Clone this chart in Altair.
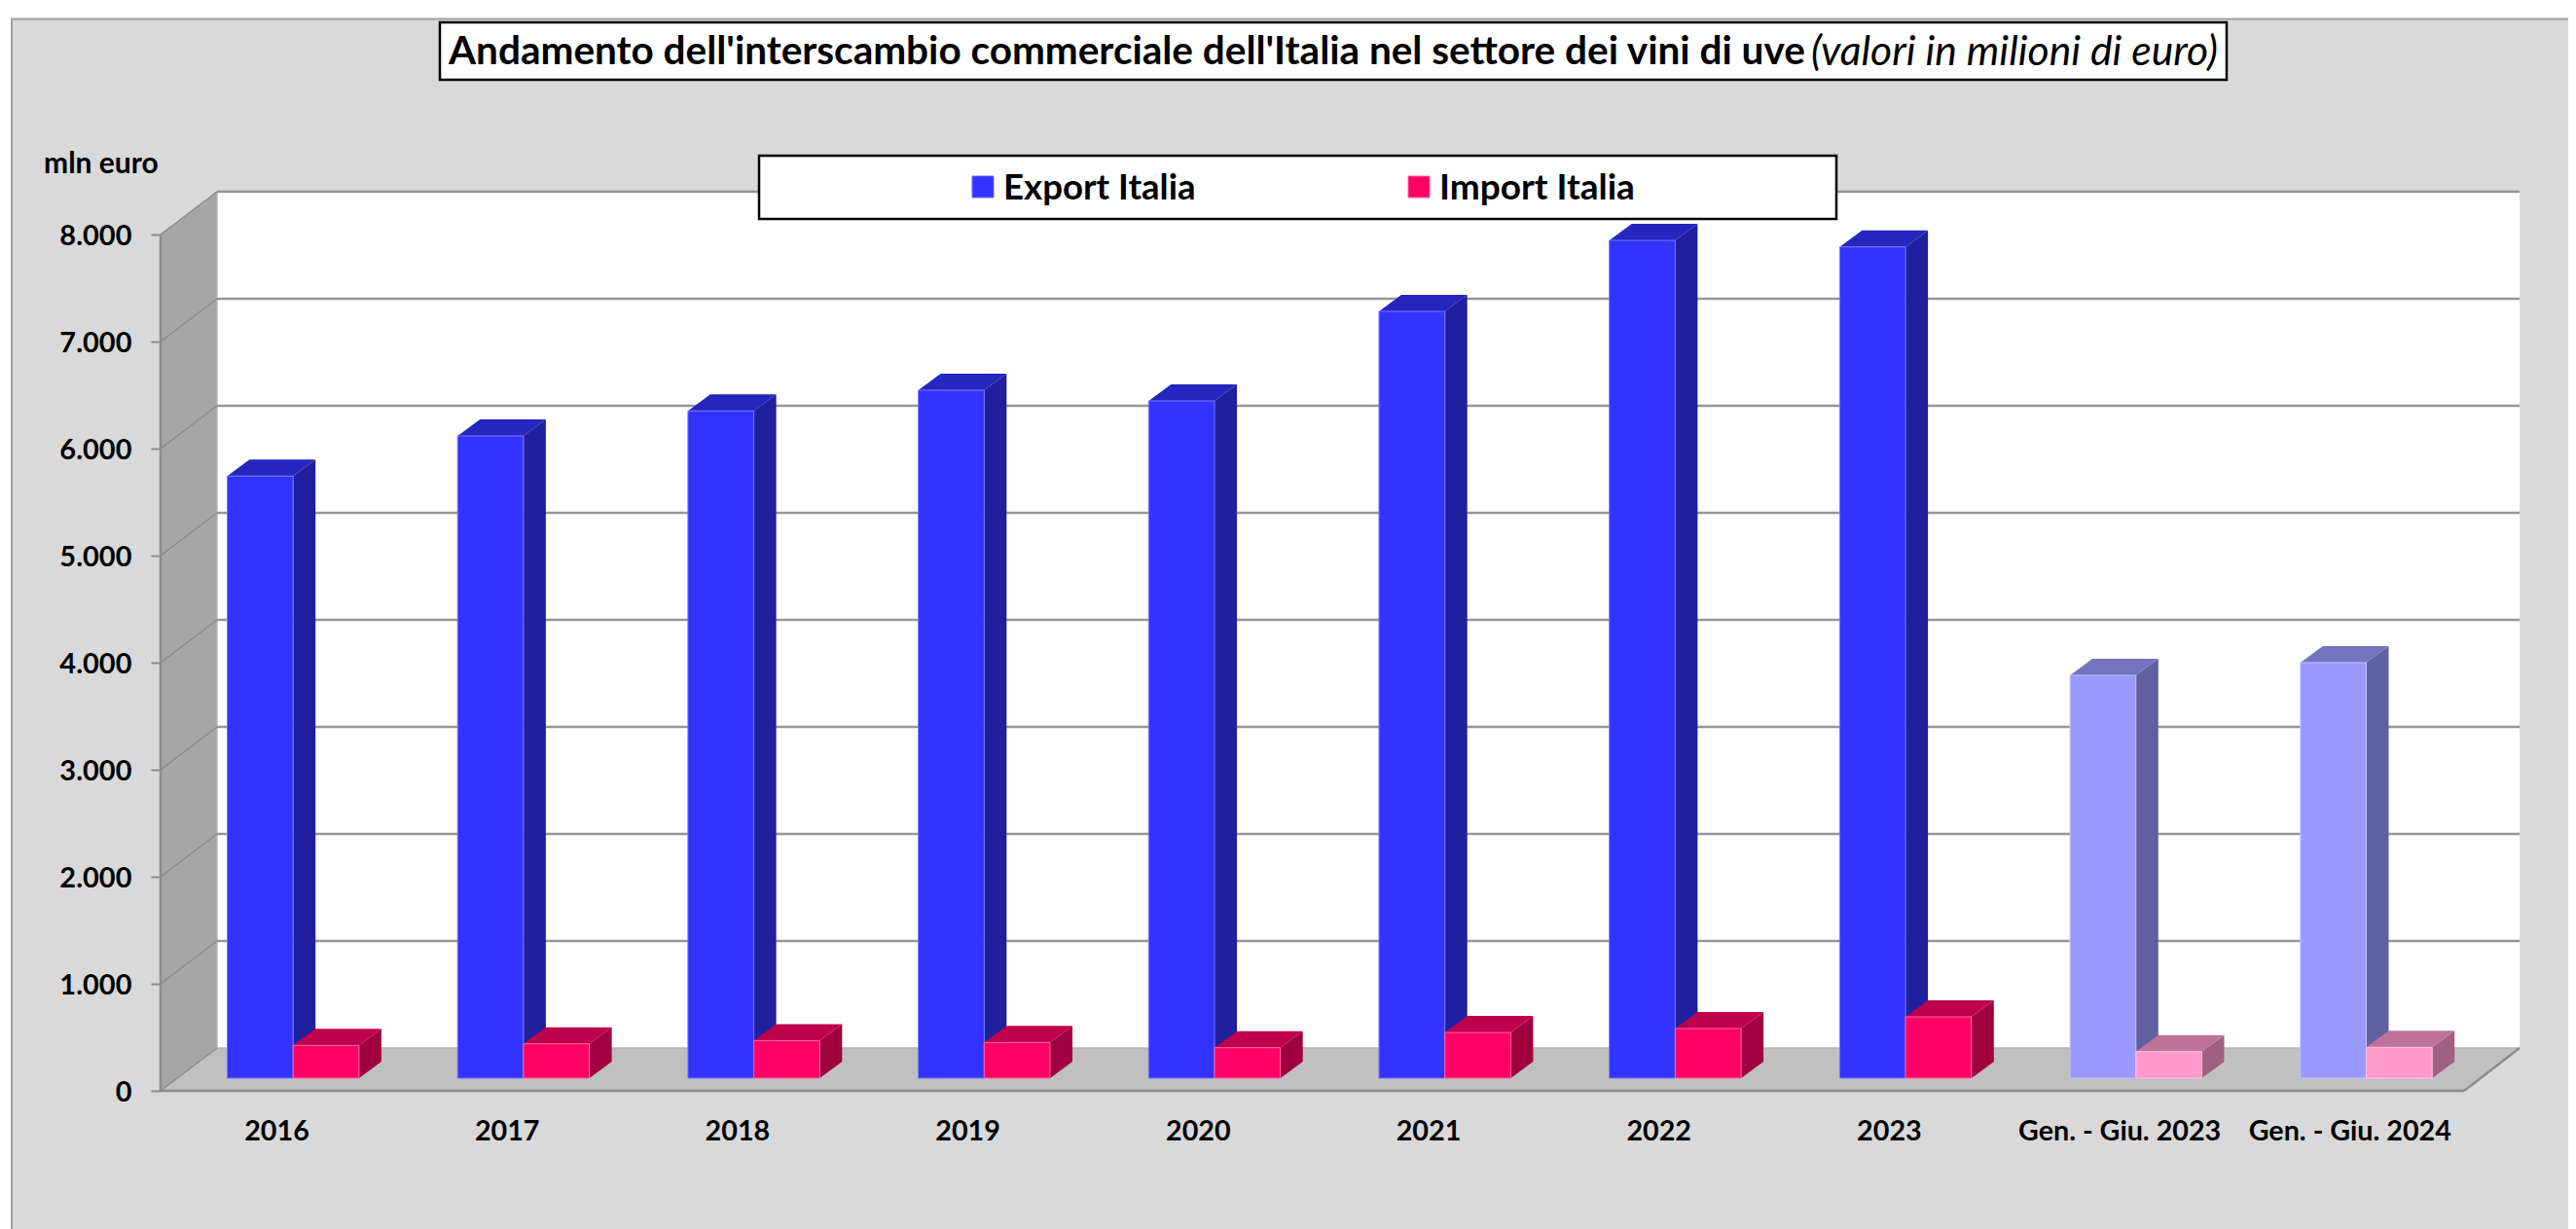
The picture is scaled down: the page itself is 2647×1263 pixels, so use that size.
import altair as alt
import pandas as pd

categories = ["2016", "2017", "2018", "2019", "2020", "2021", "2022", "2023",
              "Gen. - Giu. 2023", "Gen. - Giu. 2024"]
export_values = [5625, 6000, 6234, 6427, 6327, 7164, 7827, 7766, 3764, 3882]
import_values = [306, 321, 351, 333, 285, 427, 464, 573, 248, 288]
partial_period = [False] * 8 + [True] * 2
y_ticks = [0, 1000, 2000, 3000, 4000, 5000, 6000, 7000, 8000]
series_names = ["Export Italia", "Import Italia"]

TITLE_BOLD = "Andamento dell'interscambio commerciale dell'Italia nel settore dei vini di uve"
TITLE_ITALIC = "(valori in milioni di euro)"
FONT = "Lato"

palette = {
    ("Export", False): ("#3333FF", "#2626BE", "#20209F", "#7777FF"),
    ("Export", True): ("#9999FF", "#7373BF", "#6060A0", "#C4C4FF"),
    ("Import", False): ("#FF0066", "#BF004C", "#A0003F", "#FF66A3"),
    ("Import", True): ("#FF99CC", "#BF7399", "#A06080", "#FFC4E0"),
}

W, H = 2631, 1255
STEP = 236.7
X0_ABS = 284.0
Y0_ABS = 1121.0
PX_PER_VALUE = 0.11


def xu(px):
    return (px - X0_ABS) / STEP


def yu(px):
    return (Y0_ABS - px) / PX_PER_VALUE


def dx(px):
    return px / STEP


def dy(px):
    return px / PX_PER_VALUE


x_scale = alt.Scale(domain=[xu(8), xu(8 + W)], nice=False, zero=False)
y_scale = alt.Scale(domain=[yu(8 + H), yu(8)], nice=False, zero=False)

x_axis = alt.Axis(
    orient="bottom", offset=-(H - (Y0_ABS - 8)), values=list(range(len(categories))),
    labelExpr="[" + ",".join(f"'{c}'" for c in categories) + "][datum.value]",
    domain=False, ticks=False, grid=False, labelPadding=27, labelFont=FONT,
    labelFontSize=28.7, labelFontWeight="bold", labelColor="black", labelLimit=400,
    labelOverlap=False, labelFlush=False, labelBound=False, zindex=1)
y_axis = alt.Axis(
    orient="left", offset=-157, values=y_ticks,
    labelExpr="replace(format(datum.value, ','), ',', '.')",
    domain=False, ticks=True, tickSize=10, tickColor="#8C8C8C", tickWidth=2,
    grid=False, labelPadding=20, labelFont=FONT, labelFontSize=29, labelOffset=1.5,
    labelFontWeight="bold", labelColor="black", labelOverlap=False,
    labelFlush=False, labelBound=False, zindex=1)

FRONT_L, BACK_L, FRONT_R, BACK_R = xu(165), xu(223), xu(2532), xu(2589)
DEPTH_Y = dy(44)
BASE = dy(13)
BAR_W = dx(67.7)
BAR_DX = dx(23)
BAR_DY = dy(17)
FIRST_LEFT = xu(233.5)


def X():
    return alt.X("x:Q", scale=x_scale, axis=x_axis, title=None)


def Y():
    return alt.Y("y:Q", scale=y_scale, axis=y_axis, title=None)


def area_layer(rows, **mark):
    df = pd.DataFrame(rows)
    return alt.Chart(df).mark_area(orient="vertical", **mark).encode(
        x=X(), y=Y(), y2=alt.Y2("y2:Q"),
        color=alt.Color("c:N", scale=None, legend=None),
        detail="id:N",
    )


def segs(rows, color, width):
    df = pd.DataFrame(rows)
    return alt.Chart(df).mark_line(color=color, strokeWidth=width).encode(
        x=X(), y=Y(), detail="id:N")


def box(x1, x2, y1, y2, fill, stroke, sw):
    return alt.Chart(pd.DataFrame({"a": [0]})).mark_rect(
        fill=fill, stroke=stroke, strokeWidth=sw
    ).encode(x=alt.value(x1 - 8), x2=alt.value(x2 - 8),
             y=alt.value(y1 - 8), y2=alt.value(y2 - 8))


def label(text, x, y, size, weight="bold", style="normal", align="left"):
    return alt.Chart(pd.DataFrame({"t": [text]})).mark_text(
        font=FONT, fontSize=size, fontWeight=weight, fontStyle=style, align=align,
        baseline="middle", color="black"
    ).encode(x=alt.value(x - 8), y=alt.value(y - 8), text="t:N")


panel = box(12, 2700, 19.5, 1300, "#D9D9D9", "#A0A0A0", 2)

wall = area_layer([
    {"id": "w", "c": "#A6A6A6", "x": FRONT_L, "y": 0, "y2": 8000},
    {"id": "w", "c": "#A6A6A6", "x": BACK_L, "y": DEPTH_Y, "y2": 8000 + DEPTH_Y},
])
back = area_layer([
    {"id": "b", "c": "#FFFFFF", "x": BACK_L, "y": DEPTH_Y, "y2": 8000 + DEPTH_Y},
    {"id": "b", "c": "#FFFFFF", "x": BACK_R, "y": DEPTH_Y, "y2": 8000 + DEPTH_Y},
])
floor = area_layer([
    {"id": "f", "c": "#C0C0C0", "x": FRONT_L, "y": 0, "y2": 0},
    {"id": "f", "c": "#C0C0C0", "x": BACK_L, "y": 0, "y2": DEPTH_Y},
    {"id": "f", "c": "#C0C0C0", "x": FRONT_R, "y": 0, "y2": DEPTH_Y},
    {"id": "f", "c": "#C0C0C0", "x": BACK_R, "y": DEPTH_Y, "y2": DEPTH_Y},
])

grid_rows, diag_rows = [], []
for v in y_ticks:
    if v > 0:
        grid_rows += [{"id": v, "x": BACK_L, "y": v + DEPTH_Y},
                      {"id": v, "x": BACK_R, "y": v + DEPTH_Y}]
    diag_rows += [{"id": v, "x": FRONT_L, "y": v},
                  {"id": v, "x": BACK_L, "y": v + DEPTH_Y}]
grid = segs(grid_rows, "#969696", 2.5)
diag = segs(diag_rows, "#8C8C8C", 1.5)
edges = segs(
    [{"id": "front", "x": FRONT_L, "y": 0}, {"id": "front", "x": FRONT_R, "y": 0},
     {"id": "right", "x": FRONT_R, "y": 0}, {"id": "right", "x": BACK_R, "y": DEPTH_Y},
     {"id": "left", "x": FRONT_L, "y": 0}, {"id": "left", "x": FRONT_L, "y": 8000}],
    "#8C8C8C", 2.5)
back_floor = segs(
    [{"id": "bf", "x": BACK_L, "y": DEPTH_Y}, {"id": "bf", "x": BACK_R, "y": DEPTH_Y},
     {"id": "bl", "x": BACK_L, "y": DEPTH_Y}, {"id": "bl", "x": BACK_L, "y": 8000 + DEPTH_Y}],
    "#B4B4B4", 1.5)


def bar_layers(name, values, shift):
    side, top, front = [], [], []
    for i, (v, p) in enumerate(zip(values, partial_period)):
        f, t, s, e = palette[(name, p)]
        x0 = i + FIRST_LEFT + shift
        x1 = x0 + BAR_W
        h = BASE + v
        key = f"{name}{i}"
        side += [{"id": key, "c": s, "x": x1, "y": BASE, "y2": h},
                 {"id": key, "c": s, "x": x1 + BAR_DX, "y": BASE + BAR_DY, "y2": h + BAR_DY}]
        top += [{"id": key, "c": t, "x": x0, "y": h, "y2": h},
                {"id": key, "c": t, "x": x0 + BAR_DX, "y": h, "y2": h + BAR_DY},
                {"id": key, "c": t, "x": x1, "y": h, "y2": h + BAR_DY},
                {"id": key, "c": t, "x": x1 + BAR_DX, "y": h + BAR_DY, "y2": h + BAR_DY}]
        front.append({"id": key, "c": f, "e": e, "x": x0, "x2": x1, "y": BASE, "y2": h})
    fr = alt.Chart(pd.DataFrame(front)).mark_bar(strokeWidth=1).encode(
        x=X(), x2=alt.X2("x2:Q"), y=Y(), y2=alt.Y2("y2:Q"),
        color=alt.Color("c:N", scale=None, legend=None),
        stroke=alt.Stroke("e:N", scale=None, legend=None))
    return [area_layer(side), area_layer(top), fr]


export_layers = bar_layers("Export", export_values, 0)
import_layers = bar_layers("Import", import_values, BAR_W)

title_box = box(452, 2288, 23, 82, "#FFFFFF", "#000000", 2.5)
title_a = label(TITLE_BOLD, 461, 54, 40.5)
title_b = label(TITLE_ITALIC, 1861, 54, 42.6, weight="normal", style="italic")
legend_box = box(780, 1887, 160, 225, "#FFFFFF", "#000000", 2.5)
sw1 = box(999, 1021, 181, 203, palette[("Export", False)][0], "#6666FF", 1)
sw2 = box(1447, 1469, 181, 203, palette[("Import", False)][0], "#FF6699", 1)
leg1 = label(series_names[0], 1031, 194, 36.6)
leg2 = label(series_names[1], 1479, 194, 37)
unit = label("mln euro", 45, 168.5, 30)

chart = alt.layer(
    panel, wall, back, floor, back_floor, grid, diag, edges,
    *export_layers, *import_layers,
    legend_box, sw1, sw2, leg1, leg2, title_box, title_a, title_b, unit,
).properties(
    width=W, height=H, padding=0, autosize=alt.AutoSizeParams(type="none"),
    background="white",
).configure_view(stroke=None)

chart.save("out.html", embed_options={"renderer": "svg", "actions": False})
